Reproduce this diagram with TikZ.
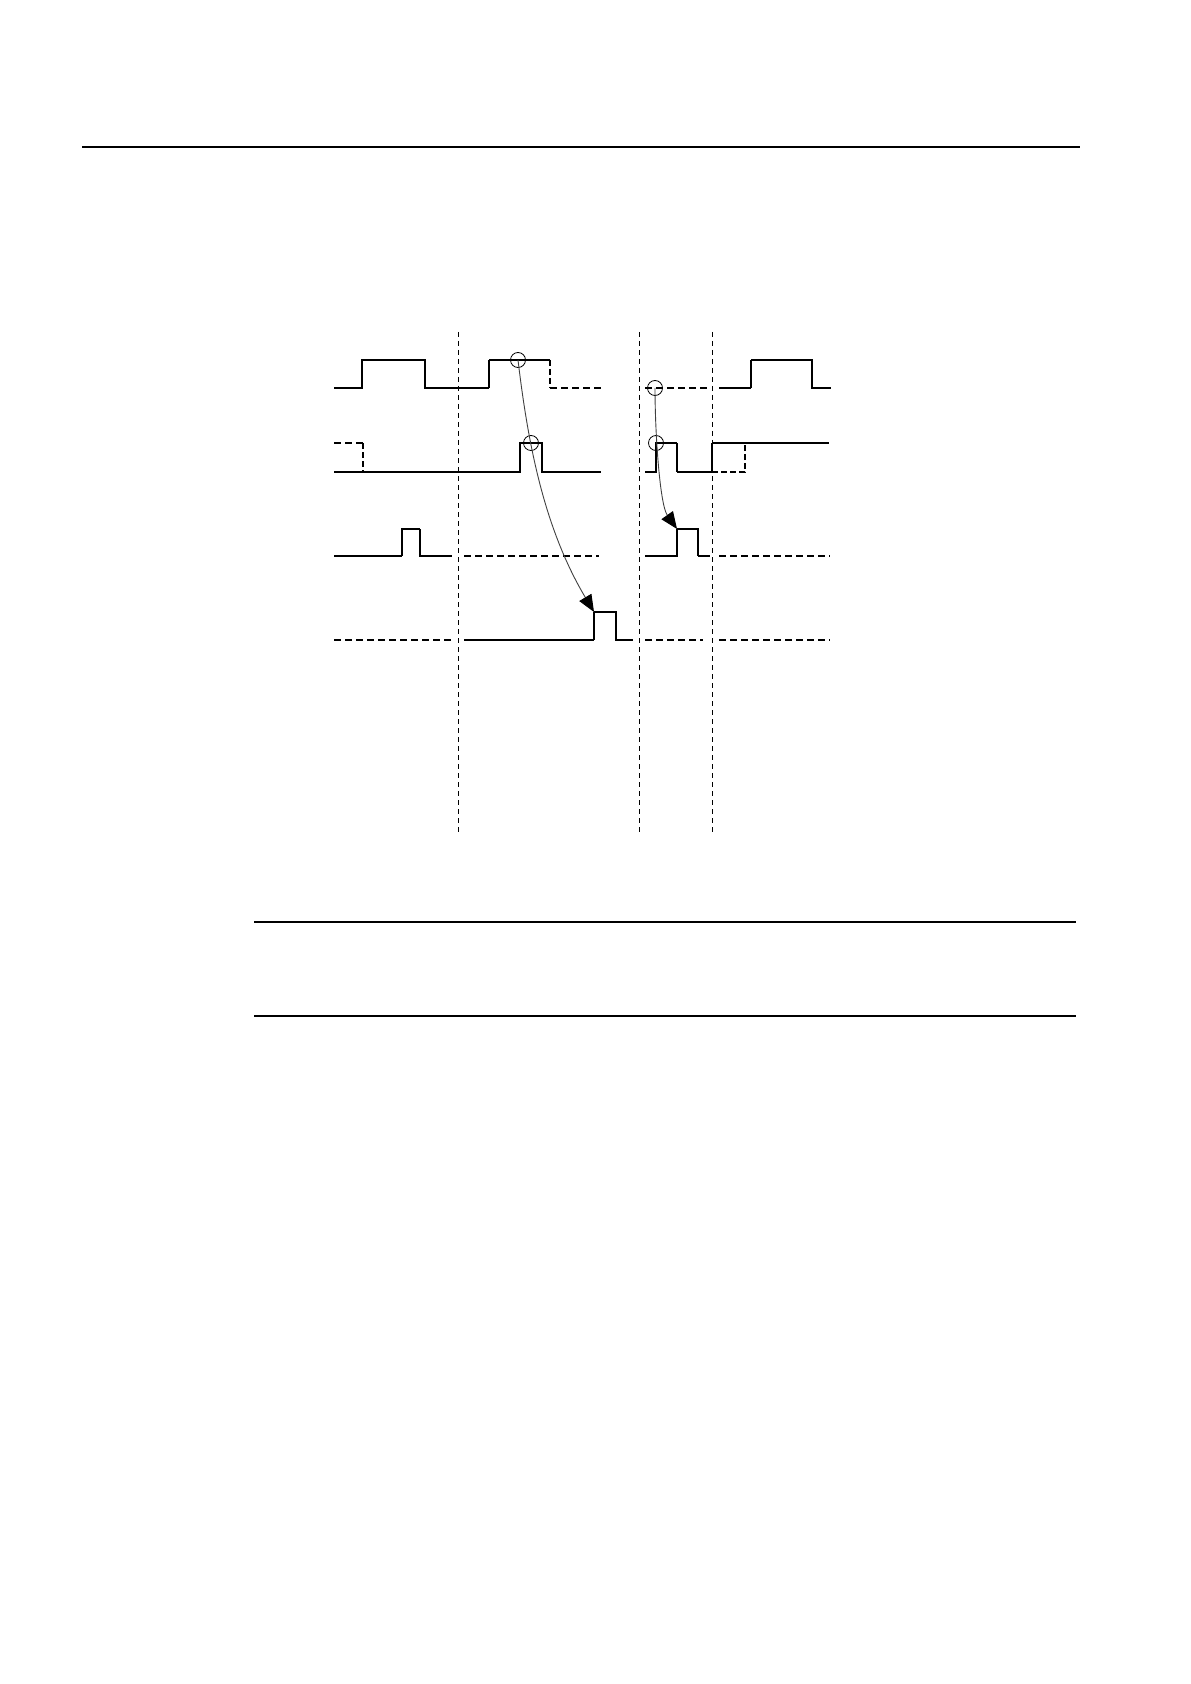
\documentclass[tikz,border=0pt]{standalone}
\usetikzlibrary{arrows.meta}
\begin{document}
\begin{tikzpicture}[x=0.5pt, y=-0.5pt,
                sig/.style={line width=0.7pt},
                edge/.style={line width=1.3pt},
                idle/.style={line width=0.7pt, dash pattern=on 3.5pt off 2pt},
                idleedge/.style={line width=1.3pt, dash pattern=on 3pt off 1.5pt},
                vline/.style={line width=0.5pt, dash pattern=on 2.5pt off 2pt},
                ring/.style={draw, circle, line width=0.4pt, minimum size=7.5pt, inner sep=0pt},
                cause/.style={line width=0.45pt, draw=black!75, -{Triangle[length=8.5pt, width=7pt, color=black]}},
                rule/.style={line width=1pt}]
                \useasboundingbox (0,0) rectangle (1190,1684);
                % page rules
                \draw[rule] (82,147) -- (1080,147);
                \draw[rule] (254,922) -- (1076,922);
                \draw[rule] (254,1016) -- (1076,1016);
                % time marks
                \foreach \t in {458,639,712}
                    \draw[vline] (\t,332) -- (\t,833);
                % signal 1
                \draw[sig] (334,388) -- (362,388) -- (362,360) -- (425,360) -- (425,388) -- (489,388);
                \draw[edge] (489,388) -- (489,360);
                \draw[sig] (489,360) -- (550,360);
                \draw[idleedge] (550,360) -- (550,388);
                \draw[idle] (550,388) -- (602,388);
                \draw[idle] (645,388) -- (710,388);
                \draw[sig] (719,388) -- (751,388);
                \draw[edge] (751,388) -- (751,360);
                \draw[sig] (751,360) -- (812,360) -- (812,388) -- (831,388);
                % signal 2
                \draw[idle] (334,443) -- (363,443);
                \draw[idleedge] (363,443) -- (363,472);
                \draw[sig] (334,472) -- (520,472) -- (520,443) -- (542,443) -- (542,472) -- (601,472);
                \draw[sig] (645,472) -- (656,472) -- (656,443) -- (677,443);
                \draw[edge] (677,443) -- (677,472);
                \draw[sig] (677,472) -- (712,472);
                \draw[edge] (712,472) -- (712,443);
                \draw[sig] (712,443) -- (829,443);
                \draw[idleedge] (712,472) -- (745,472) -- (745,443);
                % signal 3
                \draw[sig] (334,556) -- (402,556);
                \draw[edge] (402,556) -- (402,529) -- (420,529);
                \draw[sig] (420,529) -- (420,556) -- (452,556);
                \draw[idle] (464,556) -- (599,556);
                \draw[sig] (645,556) -- (677,556) -- (677,529);
                \draw[edge] (677,529) -- (698,529) -- (698,556);
                \draw[sig] (698,556) -- (710,556);
                \draw[idle] (719,556) -- (830,556);
                % signal 4
                \draw[idle] (334,640) -- (453,640);
                \draw[sig] (464,640) -- (594,640);
                \draw[edge] (594,640) -- (594,612);
                \draw[sig] (594,612) -- (616,612) -- (616,640) -- (633,640);
                \draw[idle] (645,640) -- (703,640);
                \draw[idle] (719,640) -- (830,640);
                % trigger points
                \node[ring] (trigA) at (518,360) {};
                \node[ring] (gateA) at (531,443) {};
                \node[ring] (trigB) at (655,388) {};
                \node[ring] (gateB) at (656,443) {};
                \coordinate (pulseA) at (594,612);
                \coordinate (pulseB) at (677,529);
                \draw[cause] (trigA.center) .. controls (528,444) and (544,528) .. (pulseA);
                \draw[cause] (trigB.center) .. controls (655,435) and (660,505) .. (pulseB);
\end{tikzpicture}
\end{document}
